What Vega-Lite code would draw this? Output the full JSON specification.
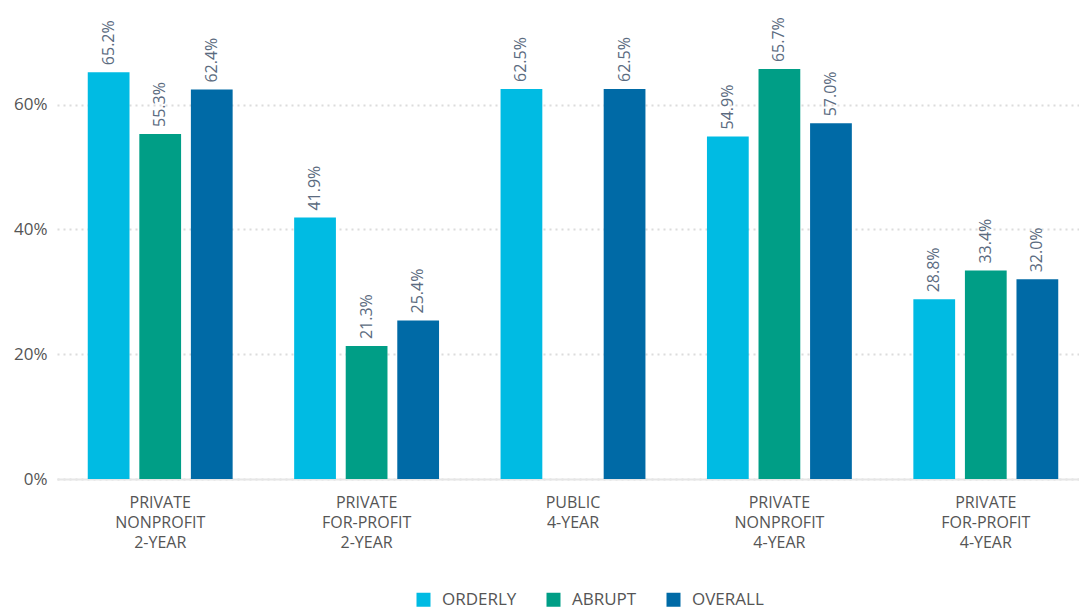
{
  "$schema": "https://vega.github.io/schema/vega-lite/v6.json",
  "width": 1022,
  "height": 468,
  "autosize": {"type": "none"},
  "padding": {"left": 57, "top": 11, "right": 0, "bottom": 133},
  "background": "white",
  "config": {
    "font": "Open Sans",
    "view": {"stroke": null}
  },
  "data": {
    "values": [
      {"sector": "PRIVATE|NONPROFIT|2-YEAR", "type": "ORDERLY", "share": 0.652},
      {"sector": "PRIVATE|NONPROFIT|2-YEAR", "type": "ABRUPT", "share": 0.553},
      {"sector": "PRIVATE|NONPROFIT|2-YEAR", "type": "OVERALL", "share": 0.624},
      {"sector": "PRIVATE|FOR-PROFIT|2-YEAR", "type": "ORDERLY", "share": 0.419},
      {"sector": "PRIVATE|FOR-PROFIT|2-YEAR", "type": "ABRUPT", "share": 0.213},
      {"sector": "PRIVATE|FOR-PROFIT|2-YEAR", "type": "OVERALL", "share": 0.254},
      {"sector": "PUBLIC|4-YEAR", "type": "ORDERLY", "share": 0.625},
      {"sector": "PUBLIC|4-YEAR", "type": "OVERALL", "share": 0.625},
      {"sector": "PRIVATE|NONPROFIT|4-YEAR", "type": "ORDERLY", "share": 0.549},
      {"sector": "PRIVATE|NONPROFIT|4-YEAR", "type": "ABRUPT", "share": 0.657},
      {"sector": "PRIVATE|NONPROFIT|4-YEAR", "type": "OVERALL", "share": 0.570},
      {"sector": "PRIVATE|FOR-PROFIT|4-YEAR", "type": "ORDERLY", "share": 0.288},
      {"sector": "PRIVATE|FOR-PROFIT|4-YEAR", "type": "ABRUPT", "share": 0.334},
      {"sector": "PRIVATE|FOR-PROFIT|4-YEAR", "type": "OVERALL", "share": 0.320}
    ]
  },
  "encoding": {
    "x": {
      "field": "sector",
      "type": "nominal",
      "sort": null,
      "scale": {"range": [0, 1032], "paddingInner": 0.298, "paddingOuter": 0.149},
      "axis": {
        "title": null,
        "labelAngle": 0,
        "labelExpr": "split(datum.label, '|')",
        "labelFontSize": 16,
        "labelColor": "#555555",
        "labelLineHeight": 20,
        "labelPadding": 15,
        "ticks": false,
        "domainColor": "#e6e6e6",
        "domainWidth": 2,
        "grid": false
      }
    },
    "xOffset": {
      "field": "type",
      "type": "nominal",
      "sort": ["ORDERLY", "ABRUPT", "OVERALL"],
      "scale": {"domain": ["ORDERLY", "ABRUPT", "OVERALL"], "paddingInner": 0.19, "paddingOuter": 0}
    },
    "y": {
      "field": "share",
      "type": "quantitative",
      "scale": {"domain": [0, 0.75], "nice": false},
      "axis": {
        "title": null,
        "format": ".0%",
        "values": [0, 0.2, 0.4, 0.6],
        "labelFontSize": 17,
        "labelColor": "#555555",
        "labelPadding": 10,
        "ticks": false,
        "domain": false,
        "grid": true,
        "gridColor": "#dcdcdc",
        "gridDash": [2, 4],
        "gridWidth": 2
      }
    }
  },
  "layer": [
    {
      "mark": {"type": "bar"},
      "encoding": {
        "color": {
          "field": "type",
          "type": "nominal",
          "scale": {"domain": ["ORDERLY", "ABRUPT", "OVERALL"], "range": ["#00bbe3", "#009e86", "#006aa6"]},
          "legend": {
            "title": null,
            "orient": "none",
            "legendX": 358,
            "legendY": 580,
            "direction": "horizontal",
            "symbolType": "square",
            "symbolSize": 196,
            "symbolStrokeWidth": 0,
            "labelFontSize": 17,
            "labelColor": "#555555",
            "labelOffset": 10,
            "columnPadding": 28
          }
        }
      }
    },
    {
      "mark": {"type": "text", "angle": 270, "align": "left", "baseline": "middle", "dx": 7, "fontSize": 16, "color": "#5b6b80"},
      "encoding": {
        "text": {"field": "share", "type": "quantitative", "format": ".1%"}
      }
    }
  ]
}
